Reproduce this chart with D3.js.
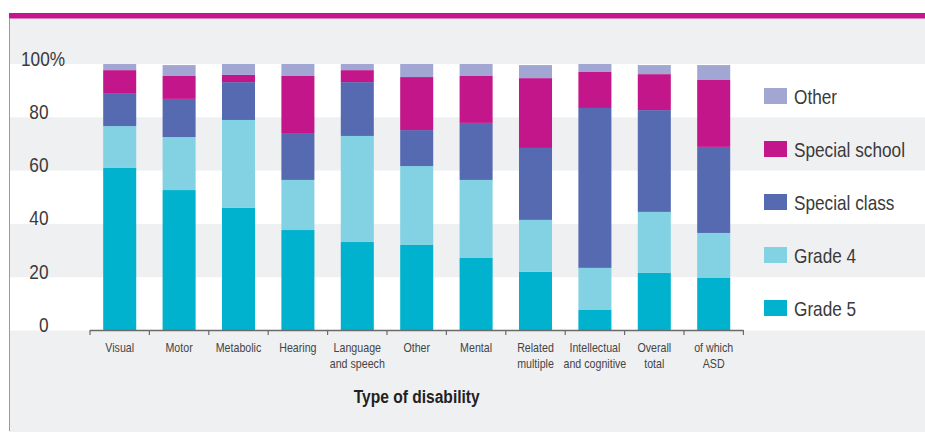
<!DOCTYPE html>
<html>
<head>
<meta charset="utf-8">
<script src="https://cdn.jsdelivr.net/npm/d3@7"></script>
<style>
  html, body { margin: 0; padding: 0; background: #ffffff; }
  svg { display: block; }
  text { font-family: "Liberation Sans", Arial, sans-serif; }
</style>
</head>
<body>
<svg id="chart" width="925" height="432"></svg>
<script>
// ---- data ----
const categories = ["Visual", "Motor", "Metabolic", "Hearing", "Language\nand speech", "Other",
  "Mental", "Related\nmultiple", "Intellectual\nand cognitive", "Overall\ntotal", "of which\nASD"];
const seriesNames = ["Grade 5", "Grade 4", "Special class", "Special school", "Other"];
const grade5        = [61.0, 52.7, 46.0, 37.7, 33.2, 32.1, 27.2, 22.0,  7.7, 21.6, 19.7];
const grade4        = [15.7, 19.9, 33.0, 18.8, 39.8, 29.6, 29.3, 19.5, 15.8, 22.9, 16.9];
const specialClass  = [12.4, 14.3, 14.2, 17.6, 20.2, 13.5, 21.4, 27.0, 60.0, 38.2, 32.3];
const specialSchool = [ 8.6,  8.6,  2.7, 21.4,  4.5, 19.9, 17.6, 26.2, 13.5, 13.5, 25.1];
const other         = [ 2.3,  4.1,  4.1,  4.5,  2.3,  4.9,  4.5,  4.9,  3.0,  3.4,  5.6];
const yTickValues = [0, 20, 40, 60, 80, 100];
const yTickLabels = ["0", "20", "40", "60", "80", "100%"];
const xTitle = "Type of disability";

const colors = ["#00b2ce", "#82d2e4", "#566ab1", "#c4168b", "#a2a6d3"];

// ---- build table ----
const seriesArrays = [grade5, grade4, specialClass, specialSchool, other];
const table = categories.map((c, i) => {
  const row = { cat: c };
  seriesNames.forEach((s, j) => row[s] = seriesArrays[j][i]);
  return row;
});

const SX = 0.82; // horizontal condensing of the font
const svg = d3.select("#chart");
const W = 925, H = 432;

// background
svg.append("rect").attr("x", 0).attr("y", 0).attr("width", W).attr("height", H).attr("fill", "#ffffff");
svg.append("rect").attr("x", 9).attr("y", 18).attr("width", W - 9).attr("height", H - 18).attr("fill", "#eff0f2");
svg.append("rect").attr("x", 9).attr("y", 13).attr("width", W - 9).attr("height", 5.5).attr("fill", "#c5168b");
svg.append("line").attr("x1", 9.5).attr("x2", 9.5).attr("y1", 18).attr("y2", 431)
  .attr("stroke", "#9a9a9a").attr("stroke-width", 1);

// scales
const x = d3.scaleBand().domain(categories).range([90, 743.4]).paddingInner(0.444).paddingOuter(0.222);
const y = d3.scaleLinear().domain([0, 100]).range([330.5, 64]);

// alternating bands
const bandPairs = [[0, 20], [40, 60], [80, 100]];
svg.append("g").selectAll("rect").data(bandPairs).join("rect")
  .attr("x", 10).attr("width", W - 10)
  .attr("y", d => y(d[1])).attr("height", d => y(d[0]) - y(d[1]))
  .attr("fill", "#ffffff");

// stacked bars
const stack = d3.stack().keys(seriesNames);
const stacked = stack(table);
const gBars = svg.append("g");
stacked.forEach((layer, j) => {
  gBars.append("g").attr("fill", colors[j])
    .selectAll("rect").data(layer).join("rect")
    .attr("x", d => x(d.data.cat))
    .attr("width", x.bandwidth())
    .attr("y", d => y(d[1]))
    .attr("height", d => y(d[0]) - y(d[1]));
});

// y axis labels
const yAxis = d3.axisLeft(y).tickValues(yTickValues).tickSize(0)
  .tickFormat((d, i) => yTickLabels[i]);
const gy = svg.append("g").attr("transform", "translate(48.5,0)").call(yAxis);
gy.select(".domain").remove();
gy.selectAll("text")
  .attr("x", 0).attr("dy", "1px")
  .attr("font-size", 21).attr("fill", "#3a3a3a")
  .style("font-family", "'Liberation Sans', Arial, sans-serif")
  .attr("transform", `scale(${SX},1)`)
  .each(function(d, i) {
    if (yTickLabels[i].endsWith("%")) {
      d3.select(this).attr("text-anchor", "start").attr("x", -27.5 / SX);
    }
  });

// x axis
const step = x.step();
const x0 = x.range()[0];
const boundaries = d3.range(categories.length + 1).map(i => x0 + i * step);
const gx = svg.append("g");
gx.append("line").attr("x1", boundaries[0]).attr("x2", boundaries[boundaries.length - 1])
  .attr("y1", 330.5).attr("y2", 330.5).attr("stroke", "#6a6a6a").attr("stroke-width", 1.5);
gx.selectAll("line.tk").data(boundaries).join("line").attr("class", "tk")
  .attr("x1", d => d).attr("x2", d => d).attr("y1", 330).attr("y2", 335)
  .attr("stroke", "#6a6a6a").attr("stroke-width", 1.2);

const xAxis = d3.axisBottom(x).tickSize(0).tickFormat("");
const gxa = svg.append("g").attr("transform", "translate(0,330.5)").call(xAxis);
gxa.select(".domain").remove();
gxa.selectAll(".tick").each(function(d) {
  const lines = d.split("\n");
  const t = d3.select(this).append("text")
    .attr("text-anchor", "middle").attr("font-size", 13).attr("fill", "#444444")
    .attr("transform", `translate(0,21.5) scale(${SX},1)`);
  lines.forEach((ln, k) => {
    t.append("tspan").attr("x", 0).attr("dy", k === 0 ? 0 : 16).text(ln);
  });
});

// x title
svg.append("text")
  .attr("transform", `translate(${(x.range()[0] + x.range()[1]) / 2},403) scale(${SX},1)`)
  .attr("text-anchor", "middle").attr("font-size", 19).attr("font-weight", "bold")
  .attr("fill", "#222222").text(xTitle);

// legend
const legendOrder = [4, 3, 2, 1, 0];
const gl = svg.append("g");
legendOrder.forEach((j, k) => {
  const cy = 96 + k * 53;
  gl.append("rect").attr("x", 764).attr("y", cy - 8).attr("width", 23).attr("height", 16).attr("fill", colors[j]);
  gl.append("text").attr("transform", `translate(794,${cy + 8}) scale(${SX},1)`)
    .attr("font-size", 21).attr("fill", "#3a3a3a").text(seriesNames[j]);
});
</script>
</body>
</html>
